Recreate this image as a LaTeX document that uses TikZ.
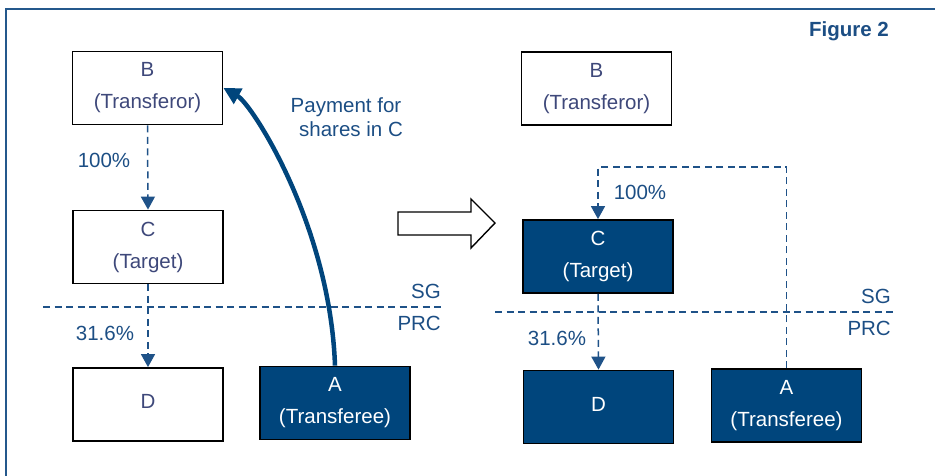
\documentclass[tikz,border=0pt]{standalone}
\usepackage{fontspec}
\setmainfont{Liberation Sans}
\usetikzlibrary{arrows.meta,calc}
\definecolor{navy}{RGB}{0,69,124}
\definecolor{lineblue}{RGB}{31,82,136}
\definecolor{labelblue}{RGB}{28,78,132}
\definecolor{boxtext}{RGB}{62,72,122}
\definecolor{framecol}{RGB}{36,88,140}
\tikzset{
  txt/.style={font=\fontsize{20.5}{32}\selectfont},
  entity/.style={txt, draw=black, line width=1.8pt, minimum width=150pt,
    minimum height=73pt, align=center, inner sep=0pt, text=boxtext, fill=white},
  entityfill/.style={entity, fill=navy, text=white},
  own/.style={lineblue, line width=1.5pt, dash pattern=on 7pt off 4.5pt,
    -{Triangle[length=13pt,width=14pt]}},
  border/.style={lineblue, line width=1.5pt, dash pattern=on 7pt off 4.5pt},
  lbl/.style={txt, text=labelblue, inner sep=0pt},
}
\begin{document}
\begin{tikzpicture}[x=1pt,y=-1pt]
\useasboundingbox (0,0) rectangle (935,475);
% frame
\draw[framecol, line width=2pt] (6,476) -- (6,9) -- (936,9);
\node[lbl, font=\fontsize{20.5}{24}\selectfont\bfseries] (fig) at (849,31) {Figure 2};

% ---------- before ----------
\node[entity] (B1) at (147.5,88) {B\\(Transferor)};
\node[entity] (C1) at (148,247) {C\\(Target)};
\node[entity] (D1) at (148,404.5) {\raisebox{6pt}{D}};
\node[entityfill] (A1) at (335,403) {A\\(Transferee)};

\draw[own] (B1.south) -- (C1.north);
\draw[own] (C1.south) -- (D1.north);
\node[lbl] (p1) at (104,160) {100\%};
\node[lbl] (q1) at (105,333) {31.6\%};

\coordinate (L1a) at (43,307);
\coordinate (L1b) at (444,307);
\draw[border] (L1a) -- (L1b);
\node[lbl, anchor=east] (sg1) at (441,291) {SG};
\node[lbl, anchor=east] (prc1) at (441,323) {PRC};

\draw[navy, line width=4.5pt, -{Triangle[length=17pt,width=17pt]}]
  (A1.north) .. controls (330,225) and (252,104) .. (B1.east);
\node[lbl, align=center, font=\fontsize{20.5}{24}\selectfont] (pay) at (346,117)
  {Payment for\\\hspace*{10pt}shares in C};

% transition arrow
\draw[black, line width=1.4pt, fill=white, line join=miter]
  (398,212) -- (471,212) -- (471,199) -- (495,223) -- (471,248) -- (471,235)
  -- (398,235) -- cycle;

% ---------- after ----------
\node[entity] (B2) at (596.5,88.5) {B\\(Transferor)};
\node[entityfill] (C2) at (598,256.5) {C\\(Target)};
\node[entityfill] (D2) at (598.5,407) {\raisebox{6pt}{D}};
\node[entityfill] (A2) at (786.5,405.5) {A\\(Transferee)};

\draw[own] (C2.south) -- (D2.north);
\draw[own] (A2.north) |- ($(C2.north)+(0,-52)$) -| (C2.north);
\node[lbl] (p2) at (640,192) {100\%};
\node[lbl] (q2) at (557,338) {31.6\%};

\coordinate (L2a) at (495,312);
\coordinate (L2b) at (895,312);
\draw[border] (L2a) -- (L2b);
\node[lbl, anchor=east] (sg2) at (891,296) {SG};
\node[lbl, anchor=east] (prc2) at (891,328) {PRC};
\end{tikzpicture}
\end{document}
